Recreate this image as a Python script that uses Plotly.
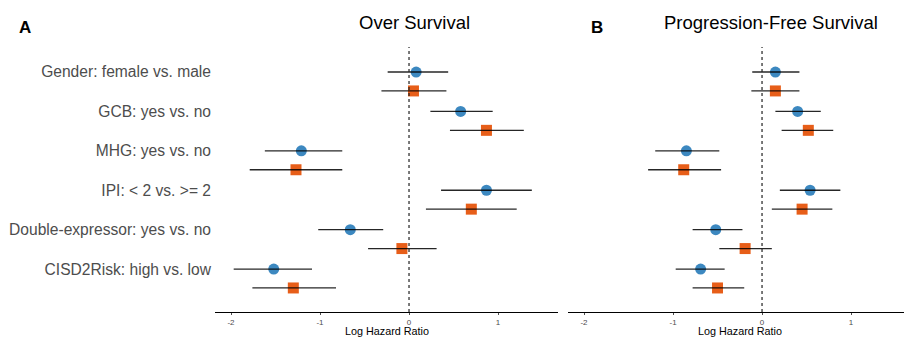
import plotly.graph_objects as go

categories = ["Gender: female vs. male", "GCB: yes vs. no", "MHG: yes vs. no",
              "IPI: < 2 vs. >= 2", "Double-expressor: yes vs. no", "CISD2Risk: high vs. low"]

# Overall survival (panel A): circle series and square series
os_c_est = [0.08, 0.58, -1.21, 0.87, -0.66, -1.52]
os_c_lo = [-0.24, 0.24, -1.62, 0.36, -1.02, -1.97]
os_c_hi = [0.44, 0.94, -0.75, 1.38, -0.29, -1.09]
os_s_est = [0.05, 0.87, -1.27, 0.70, -0.08, -1.30]
os_s_lo = [-0.31, 0.46, -1.79, 0.19, -0.46, -1.76]
os_s_hi = [0.42, 1.29, -0.75, 1.21, 0.31, -0.82]

# Progression-free survival (panel B)
pfs_c_est = [0.15, 0.40, -0.85, 0.54, -0.52, -0.69]
pfs_c_lo = [-0.11, 0.15, -1.20, 0.20, -0.78, -0.97]
pfs_c_hi = [0.42, 0.66, -0.48, 0.88, -0.22, -0.42]
pfs_s_est = [0.15, 0.52, -0.88, 0.45, -0.19, -0.50]
pfs_s_lo = [-0.12, 0.22, -1.28, 0.11, -0.48, -0.78]
pfs_s_hi = [0.42, 0.80, -0.46, 0.79, 0.11, -0.20]

x_ticks = [-2, -1, 0, 1]
x_ticktext = ["-2", "-1", "0", "1"]
x_title = "Log Hazard Ratio"

BLUE = "#3182BD"
ORANGE = "#E6550D"
FONT = "Liberation Sans, Arial, sans-serif"
OFFSET = 0.48

fig = go.Figure()

def add_panel(xa, ya, c_est, c_lo, c_hi, s_est, s_lo, s_hi):
    yc = [i for i in range(len(categories))]
    ys = [i + OFFSET for i in range(len(categories))]
    fig.add_trace(go.Scatter(x=c_est, y=yc, mode="markers", xaxis=xa, yaxis=ya,
                             marker=dict(symbol="circle", size=11, color=BLUE, opacity=0.95,
                                         line=dict(width=0)), showlegend=False))
    fig.add_trace(go.Scatter(x=s_est, y=ys, mode="markers", xaxis=xa, yaxis=ya,
                             marker=dict(symbol="square", size=11, color=ORANGE, opacity=0.95,
                                         line=dict(width=0)), showlegend=False))
    lx, ly = [], []
    for lo, hi, yy in zip(c_lo + s_lo, c_hi + s_hi, yc + ys):
        lx += [lo, hi, None]
        ly += [yy, yy, None]
    fig.add_trace(go.Scatter(x=lx, y=ly, mode="lines", xaxis=xa, yaxis=ya,
                             line=dict(color="rgba(0,0,0,0.85)", width=1.3),
                             hoverinfo="skip", showlegend=False))

add_panel("x", "y", os_c_est, os_c_lo, os_c_hi, os_s_est, os_s_lo, os_s_hi)
add_panel("x2", "y2", pfs_c_est, pfs_c_lo, pfs_c_hi, pfs_s_est, pfs_s_lo, pfs_s_hi)

W, H = 904, 338
MT, MB = 47, 26
PH = H - MT - MB
yrange = [6.09, -0.635]
XA = [215 / W, 558 / W]
XB = [568 / W, 1.0]


def py(px):
    # convert a pixel row (from top of page) into paper coordinates
    return (H - MB - px) / PH


xaxis_common = dict(tickvals=x_ticks, ticktext=x_ticktext, showgrid=False, zeroline=False,
                    showline=True, linecolor="black", linewidth=1.2, ticks="outside",
                    ticklen=2, tickcolor="#4d4d4d", tickwidth=0.8,
                    tickfont=dict(size=8, color="#4d4d4d", family=FONT))

fig.update_layout(
    width=W, height=H,
    margin=dict(l=0, r=0, t=MT, b=MB),
    plot_bgcolor="white", paper_bgcolor="white",
    font=dict(family=FONT),
    xaxis=dict(domain=XA, range=[-2.18, 1.674], anchor="y", **xaxis_common),
    xaxis2=dict(domain=XB, range=[-2.18, 1.595], anchor="y2", **xaxis_common),
    yaxis=dict(range=yrange, tickvals=list(range(len(categories))), ticktext=categories,
               showgrid=False, zeroline=False, showline=False, ticks="", ticklabelstandoff=3,
               tickfont=dict(size=15.6, color="#4d4d4d", family=FONT), anchor="x"),
    yaxis2=dict(range=yrange, showticklabels=False, showgrid=False, zeroline=False,
                showline=False, ticks="", anchor="x2"),
    shapes=[
        dict(type="line", xref="x", yref="y domain", x0=0, x1=0, y0=0, y1=1,
             line=dict(color="#222", width=1.2, dash="3px,3px")),
        dict(type="line", xref="x2", yref="y2 domain", x0=0, x1=0, y0=0, y1=1,
             line=dict(color="#222", width=1.2, dash="3px,3px")),
    ],
    annotations=[
        dict(text="Over Survival", xref="paper", yref="paper", x=414 / W, y=py(22),
             xanchor="center", yanchor="middle", showarrow=False,
             font=dict(size=18.5, color="black", family=FONT)),
        dict(text="Progression-Free Survival", xref="paper", yref="paper", x=771 / W, y=py(22),
             xanchor="center", yanchor="middle", showarrow=False,
             font=dict(size=18.5, color="black", family=FONT)),
        dict(text="<b>A</b>", xref="paper", yref="paper", x=17 / W, y=py(27),
             xanchor="left", yanchor="middle", showarrow=False,
             font=dict(size=17, color="black", family=FONT)),
        dict(text="<b>B</b>", xref="paper", yref="paper", x=589 / W, y=py(27),
             xanchor="left", yanchor="middle", showarrow=False,
             font=dict(size=17, color="black", family=FONT)),
        dict(text=x_title, xref="paper", yref="paper", x=(XA[0] + XA[1]) / 2, y=py(338),
             xanchor="center", yanchor="bottom", showarrow=False, borderpad=0,
             font=dict(size=10.8, color="black", family=FONT)),
        dict(text=x_title, xref="paper", yref="paper", x=(XB[0] + XB[1]) / 2 + 4 / W, y=py(338),
             xanchor="center", yanchor="bottom", showarrow=False, borderpad=0,
             font=dict(size=10.8, color="black", family=FONT)),
    ],
)

fig.write_html("out.html")
